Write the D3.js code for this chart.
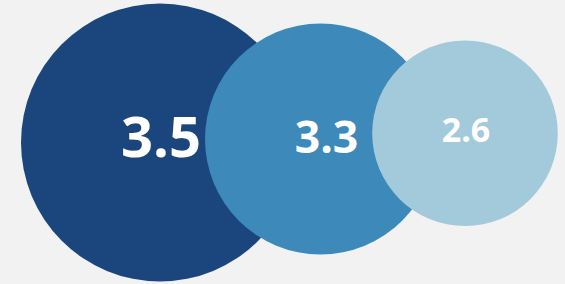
<!DOCTYPE html>
<html>
    <head>
        <meta charset="utf-8">
        <title>bubbles</title>
        <script type="text/javascript" src="https://cdn.jsdelivr.net/npm/d3@7"></script>
        <style>
            body { margin: 0; background: #f2f2f2; }
        </style>
    </head>
    <body>
        <script type="text/javascript">
            var values = [3.5, 3.3, 2.6];
            var labels = ["3.5", "3.3", "2.6"];
            var colors = ["#1b467d", "#3d8aba", "#a2cadb"];

            var w = 565;
            var h = 284;

            var svg = d3.select("body")
                    .append("svg")
                    .attr("width", w)
                    .attr("height", h);

            svg.append("rect")
                .attr("width", w)
                .attr("height", h)
                .attr("fill", "#f2f2f2");

            // position of each bubble along the row
            var xScale = d3.scaleLinear()
                    .domain([0, 1, 2])
                    .range([160, 320.5, 465]);
            var yScale = d3.scaleLinear()
                    .domain([0, 1, 2])
                    .range([142.5, 139, 133.3]);

            // bubble size from value
            var rScale = d3.scaleLinear()
                    .domain([2.6, 3.3, 3.5])
                    .range([92.8, 115.5, 139]);
            var fScale = d3.scaleLinear()
                    .domain([2.6, 3.3, 3.5])
                    .range([34, 44.5, 56]);

            var g = svg.selectAll("g.bubble")
                    .data(values)
                    .enter()
                    .append("g")
                    .attr("class", "bubble");

            g.append("circle")
                .attr("cx", function(d, i) { return xScale(i); })
                .attr("cy", function(d, i) { return yScale(i); })
                .attr("r", function(d) { return rScale(d); })
                .attr("fill", function(d, i) { return colors[i]; });

            var textDx = [1, 6, 1];
            var textDy = [-7.5, -4, -4];

            g.append("text")
                .text(function(d, i) { return labels[i]; })
                .attr("x", function(d, i) { return xScale(i) + textDx[i]; })
                .attr("y", function(d, i) { return yScale(i) + textDy[i]; })
                .attr("text-anchor", "middle")
                .attr("dominant-baseline", "central")
                .attr("font-family", "'Open Sans', sans-serif")
                .attr("font-weight", "bold")
                .attr("font-size", function(d) { return fScale(d) + "px"; })
                .attr("fill", "#ffffff");
        </script>
    </body>
</html>
